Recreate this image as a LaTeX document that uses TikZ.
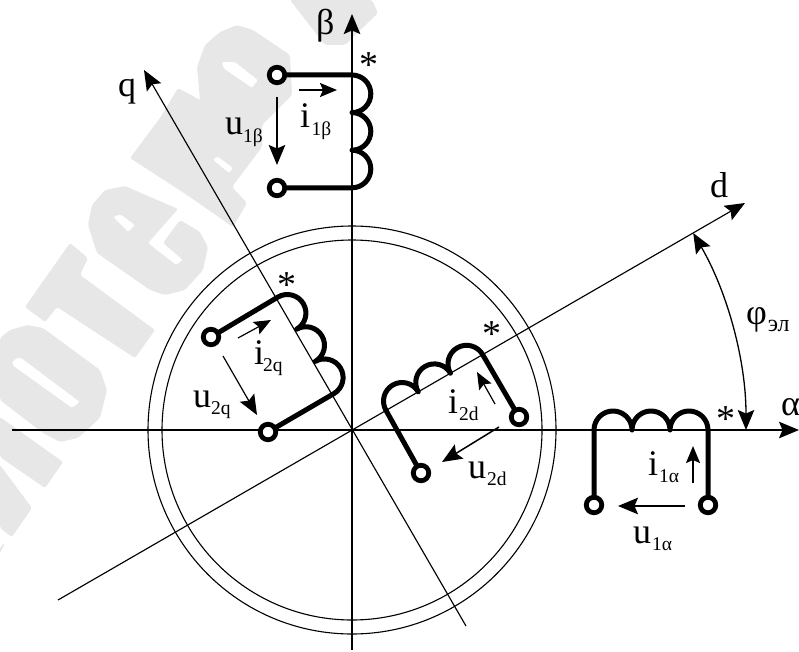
\documentclass[tikz,border=0pt]{standalone}
\usepackage{fontspec}
\setmainfont{Liberation Serif}
\usetikzlibrary{arrows.meta}
\definecolor{wm}{gray}{0.905}
\newcommand{\lab}[3]{#1\kern#3pt\raisebox{-7.5pt}{\fontsize{19.5}{19.5}\selectfont #2}}
\tikzset{
  wmark/.style={fill=wm,draw=none,rounded corners=2pt,even odd rule},
  bigtip/.tip={Stealth[length=20pt,width=16.5pt,inset=3.5pt]},
  smalltip/.tip={Stealth[length=17pt,width=14pt,inset=3pt]},
  thickaxis/.style={line width=1.7pt},
  thinaxis/.style={line width=1.15pt},
  ring/.style={line width=1.1pt},
  sig/.style={line width=1.7pt,-bigtip},
  sigthin/.style={line width=1.2pt,-bigtip},
  wire/.style={line width=5pt,line join=round},
  term/.style={circle,draw,fill=white,line width=4.8pt,minimum size=15.5pt,inner sep=0pt,outer sep=0pt},
  lbl/.style={anchor=base west,inner sep=0pt,outer sep=0pt,font=\fontsize{36}{36}\selectfont},
  starlbl/.style={anchor=base,inner sep=0pt,outer sep=0pt,font=\fontsize{38}{38}\selectfont},
}
\begin{document}
\begin{tikzpicture}[x=1pt,y=-1pt]
\useasboundingbox (0,0) rectangle (799,652);
% watermark
\fill[wmark] (0,400) -- (0,338) -- (10,330) -- (27,325) -- (43,328) -- (100,370) -- (107,390) -- (100,418) -- (78,438) -- (60,442) -- (43,433) -- cycle
  (13,360) -- (20,357) -- (80,402) -- (72,408) -- (12,365) -- cycle;
\fill[wmark] (70,243) -- (88,258) -- (80,275) -- (155,330) -- (135,358) -- (57,307) -- (45,322) -- (25,307) -- cycle;
\fill[wmark] (88,225) -- (92,205) -- (105,190) -- (125,186) -- (178,209) -- (148,243) -- (176,265) -- (183,260) -- (163,243) -- (180,220) -- (200,232) -- (208,247) -- (203,270) -- (185,290) -- (165,295) -- (150,290) -- (97,253) -- cycle
  (113,217) -- (120,214) -- (135,225) -- (128,232) -- cycle;
\fill[wmark] (130,158) -- (160,118) -- (178,88) -- (200,100) -- (197,67) -- (205,45) -- (220,32) -- (237,25) -- (253,30) -- (290,55) -- (292,95) -- (262,125) -- (262,147) -- (232,187) -- (247,203) -- (233,227) -- (190,197) -- cycle
  (222,62) -- (235,62) -- (258,80) -- (252,88) -- (223,68) -- cycle
  (213,160) -- (217,156) -- (233,168) -- (229,173) -- cycle;
\fill[wmark] (290,0) -- (372,0) -- (378,13) -- (345,45) -- (325,45) -- cycle;
\fill[wmark] (0,417) -- (63,462) -- (45,488) -- (0,457) -- cycle;
\fill[wmark] (0,465) -- (32,508) -- (12,537) -- (0,528) -- cycle;
\fill[wmark] (0,547) -- (5,543) -- (0,553) -- cycle;
% coordinates
\coordinate (O) at (352,430);
\coordinate (aL) at (12,430);
\coordinate (aR) at (799,430);
\coordinate (bB) at (352,650);
\coordinate (bT) at (352,14);
\coordinate (dL) at (58,600);
\coordinate (dR) at (745,203);
\coordinate (qB) at (466,626);
\coordinate (qT) at (144,70);
% rings
\draw[ring] (O) circle[radius=190];
\draw[ring] (O) circle[radius=204];
% axes
\draw[thickaxis,-bigtip] (aL) -- (aR);
\draw[thickaxis,-bigtip] (bB) -- (bT);
\draw[thinaxis,-bigtip] (dL) -- (dR);
\draw[thinaxis,-bigtip] (qB) -- (qT);
\draw[line width=1.3pt,bigtip-bigtip] ([shift={(-30:394)}]O) arc[start angle=-30,delta angle=30,radius=394];
% terminals
\node[term] (tb1) at (277,75) {};
\node[term] (tb2) at (277,188) {};
\node[term] (tq1) at (211,337) {};
\node[term] (tq2) at (268,432) {};
\node[term] (td1) at (519,417) {};
\node[term] (td2) at (421,473) {};
\node[term] (ta1) at (594,505) {};
\node[term] (ta2) at (708,505) {};
% coils
\coordinate (cb) at (352,75);
\coordinate (cq) at (278,297);
\coordinate (cd) at (386,410.4);
\coordinate (ca) at (594,430);
\draw[wire] (tb1) -- (cb) arc[start angle=-90,delta angle=180,radius=18.8] arc[start angle=-90,delta angle=180,radius=18.8] arc[start angle=-90,delta angle=180,radius=18.8] -- (tb2);
\draw[wire] (tq1) -- (cq) arc[start angle=-120,delta angle=180,radius=18.6] arc[start angle=-120,delta angle=180,radius=18.6] arc[start angle=-120,delta angle=180,radius=18.6] -- (tq2);
\draw[wire] (td2) -- (cd) arc[start angle=-210,delta angle=180,radius=18.6] arc[start angle=-210,delta angle=180,radius=18.6] arc[start angle=-210,delta angle=180,radius=18.6] -- (td1);
\draw[wire] (ta1) -- (ca) arc[start angle=-180,delta angle=180,radius=19] arc[start angle=-180,delta angle=180,radius=19] arc[start angle=-180,delta angle=180,radius=19] -- (ta2);
% signal arrows
\coordinate (ub0) at (277,97); \coordinate (ub1) at (277,165);
\coordinate (ib0) at (299,90); \coordinate (ib1) at (337,90);
\coordinate (uq0) at (223,356); \coordinate (uq1) at (257,415);
\coordinate (iq0) at (238,338); \coordinate (iq1) at (271,320);
\coordinate (id0) at (495,404); \coordinate (id1) at (477,372);
\coordinate (ud0) at (499,427); \coordinate (ud1) at (442,462);
\coordinate (ia0) at (693,483); \coordinate (ia1) at (693,446);
\coordinate (ua0) at (685,506); \coordinate (ua1) at (618,506);
\draw[sig] (ub0) -- (ub1);
\draw[line width=1.7pt,-smalltip] (ib0) -- (ib1);
\draw[sigthin] (uq0) -- (uq1);
\draw[line width=1.2pt,-smalltip] (iq0) -- (iq1);
\draw[line width=1.2pt,-smalltip] (id0) -- (id1);
\draw[line width=1.5pt,-bigtip] (ud0) -- (ud1);
\draw[line width=1.7pt,-smalltip] (ia0) -- (ia1);
\draw[sig] (ua0) -- (ua1);
% labels
\node[lbl] (lbeta) at (316,35) {β};
\node[lbl] (lq) at (118,97) {q};
\node[lbl] (ld) at (710,197) {d};
\node[lbl] (lalpha) at (781,415) {α};
\node[lbl] (lphi) at (746,324) {φ\kern1pt\raisebox{-7.5pt}{\fontsize{24}{24}\selectfont эл}};
\node[starlbl] (sb) at (369,78) {*};
\node[starlbl] (sq) at (287,297) {*};
\node[starlbl] (sd) at (492,346) {*};
\node[starlbl] (sa) at (726,431) {*};
\node[lbl] (lub) at (225,135) {\lab{u}{1β}{0}};
\node[lbl] (lib) at (300,128) {\lab{i}{1β}{1.5}};
\node[lbl] (luq) at (193,407) {\lab{u}{2q}{0}};
\node[lbl] (liq) at (254,364) {\lab{i}{2q}{-1}};
\node[lbl] (lid) at (448,413) {\lab{i}{2d}{1}};
\node[lbl] (lud) at (468,478) {\lab{u}{2d}{1}};
\node[lbl] (lia) at (648,475) {\lab{i}{1α}{1}};
\node[lbl] (lua) at (633,543) {\lab{u}{1α}{1}};
\end{tikzpicture}
\end{document}
